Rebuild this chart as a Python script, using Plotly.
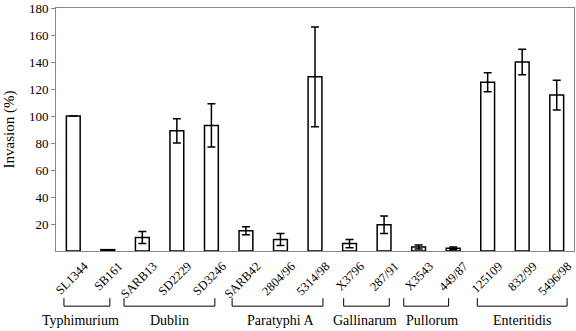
import plotly.graph_objects as go

strains = ["SL1344", "SB161", "SARB13", "SD2229", "SD3246", "SARB42", "2804/96", "5314/98",
           "X3796", "287/91", "X3543", "449/87", "125109", "832/99", "5496/98"]
invasion = [100, 1, 10, 89, 93, 15, 8.5, 129, 5.5, 19.5, 3, 2, 125, 140, 115.5]
errors = [0, 0, 4.5, 9, 16, 3, 4.5, 37, 3, 6.5, 1.5, 1, 7, 9.5, 11]

groups = ["Typhimurium", "Dublin", "Paratyphi A", "Gallinarum", "Pullorum", "Enteritidis"]
group_start = [-0.27, 1.47, 4.6, 7.83, 9.57, 11.7]
group_end = [1.06, 4.1, 7.23, 9.15, 10.87, 14.3]
group_label_x = [0.2, 2.8, 6.0, 8.45, 10.4, 13.0]

serif = "Liberation Serif, Times New Roman, serif"

fig = go.Figure()
fig.add_trace(go.Bar(
    x=list(range(len(strains))), y=invasion,
    marker=dict(color="white", line=dict(color="black", width=1.5)),
    width=0.4,
    error_y=dict(type="data", array=errors, visible=True, color="black", thickness=1.5, width=4),
))

shapes = []
for s, e in zip(group_start, group_end):
    shapes.append(dict(type="path", xref="x", yref="paper",
                       path=f"M {s},-0.194 L {s},-0.227 L {e},-0.227 L {e},-0.194",
                       line=dict(color="black", width=1)))

annotations = []
for g, gx in zip(groups, group_label_x):
    annotations.append(dict(text=g, x=gx, y=-0.287, xref="x", yref="paper",
                            showarrow=False, yanchor="middle", xanchor="center",
                            font=dict(family=serif, size=14, color="black")))

fig.update_layout(
    width=576, height=331,
    margin=dict(l=56, r=1, t=5, b=80),
    paper_bgcolor="white", plot_bgcolor="white",
    showlegend=False,
    font=dict(family=serif, size=13, color="black"),
    shapes=shapes, annotations=annotations,
    xaxis=dict(range=[-0.5, 14.5], tickvals=list(range(len(strains))), ticktext=strains,
               tickangle=-45, showgrid=False, showline=True, linecolor="#888888", linewidth=1,
               mirror=True, ticks="", ticklabelshift=11, ticklabelstandoff=2,
               zeroline=False, tickfont=dict(family=serif, size=12.5)),
    yaxis=dict(range=[0, 180], tickvals=[20, 40, 60, 80, 100, 120, 140, 160, 180],
               showgrid=False, showline=True, linecolor="#888888", linewidth=1, mirror=True,
               ticks="outside", ticklen=4, tickcolor="#888888", ticklabeloverflow="allow",
               zeroline=False, tickfont=dict(family=serif, size=13),
               title=dict(text="Invasion (%)", font=dict(family=serif, size=15), standoff=10)),
)

fig.write_html("out.html", config={"displayModeBar": False},
               post_script="document.body.style.margin='0';document.body.style.padding='0';")
